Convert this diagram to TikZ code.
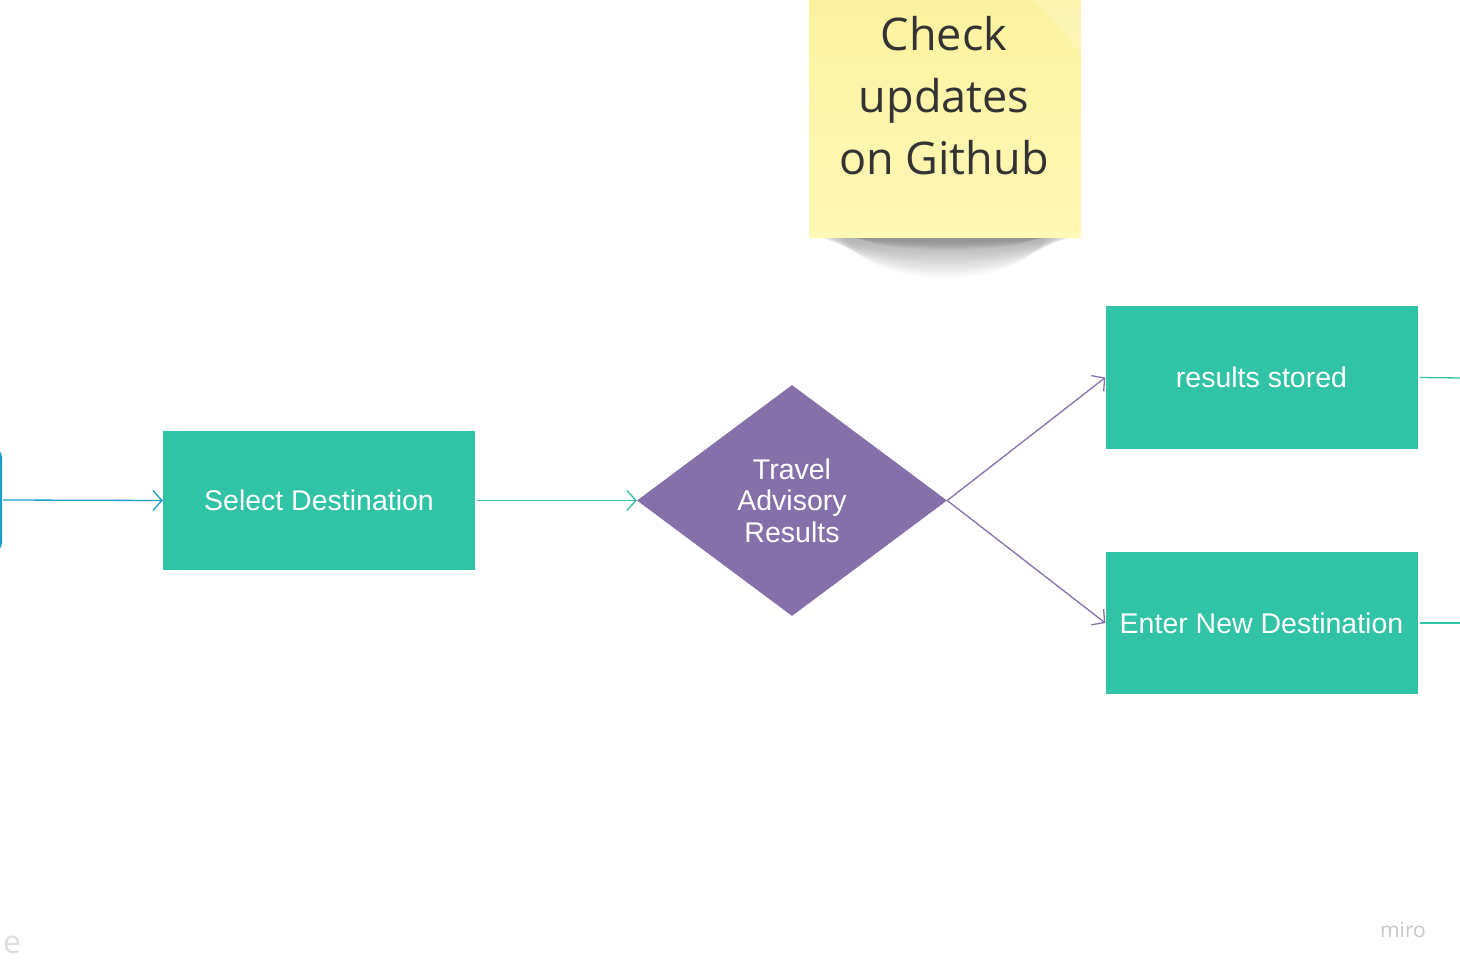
\documentclass[tikz,border=0pt]{standalone}
\usepackage{fontspec}
\setmainfont{Liberation Sans}
\newfontfamily\opensans{Open Sans}
\usetikzlibrary{arrows.meta,shapes.geometric}
\definecolor{teal}{HTML}{30C3A5}
\definecolor{purp}{HTML}{8670AA}
\definecolor{blu}{HTML}{1A9ECB}
\definecolor{sticky}{HTML}{FFF8B6}
\definecolor{stickytop}{HTML}{FBF2A0}
\definecolor{stickytxt}{HTML}{333333}
\tikzset{
  box/.style={rectangle, fill=teal, text=white, minimum width=312pt, minimum height=141pt, inner sep=0pt,
    font=\fontsize{28.5}{31.5}\selectfont},
  dec/.style={diamond, fill=purp, text=white, minimum width=310pt, minimum height=231pt, aspect=1.342, inner sep=0pt,
    align=center, font=\fontsize{28.5}{31.5}\selectfont},
  conn/.style={line width=1.3pt, -{Straight Barb[length=9pt,width=20pt,line width=1.3pt]}},
  stub/.style={line width=1.3pt, draw=teal},
}
\begin{document}
\begin{tikzpicture}[x=1pt,y=-1pt]
\useasboundingbox (0,0) rectangle (1460,973);
\clip (0,0) rectangle (1460,973);
\fill[white] (0,0) rectangle (1460,973);
% sticky note shadow (soft)
\foreach \i in {0,...,14}{
  \fill[black, opacity=0.018]
    (815+2*\i,236) .. controls (845+2*\i,250+3*\i) and (1045-2*\i,250+3*\i) .. (1075-2*\i,236) -- cycle;
}
\foreach \i in {0,...,5}{
  \fill[black, opacity=0.03]
    (840+4*\i,236) .. controls (870,244+2*\i) and (1030,244+2*\i) .. (1055-4*\i,236) -- cycle;
}
% sticky note
\shade[top color=stickytop, bottom color=sticky] (809,-2) rectangle (1081,238);
\fill[white, opacity=0.18] (1030,-2) .. controls (1050,15) and (1065,35) .. (1081,55) -- (1081,-2) -- cycle;
\node (note) [text=stickytxt, align=center, font=\opensans\fontsize{45}{62}\selectfont] at (944,96)
  {Check\\updates\\on Github};
% left partial box
\node (lft) [draw=blu, line width=2.2pt, rounded corners=10pt, minimum width=110pt, minimum height=104pt, inner sep=0pt] at (-54,500) {};
% nodes
\node (sel) [box, minimum height=139pt] at (319,500.5) {Select Destination};
\node (dia) [dec] at (792,500.5) {Travel\\Advisory\\Results};
\node (rs) [box, minimum height=143pt] at (1261.5,377.5) {results stored};
\node (end) [box, minimum height=142pt] at (1261.5,623) {Enter New Destination};
\coordinate (o1) at (1461,378);
\coordinate (o2) at (1461,623);
% connectors
\draw[conn, blu] ([xshift=1pt]lft.east) -- (sel.west);
\draw[conn, teal] ([xshift=2pt]sel.east) -- (dia.west);
\draw[conn, purp] (dia.east) -- (rs.west);
\draw[conn, purp] (dia.east) -- (end.west);
\draw[stub] ([xshift=2pt]rs.east) -- (o1);
\draw[stub] ([xshift=2pt]end.east) -- (o2);
% labels
\node (e) [text=black!13, font=\opensans\fontsize{32}{36}\selectfont] at (12,945) {e};
\node (miro) [text=black!22, font=\opensans\fontsize{21}{24}\selectfont] at (1403,930) {miro};
\end{tikzpicture}
\end{document}
